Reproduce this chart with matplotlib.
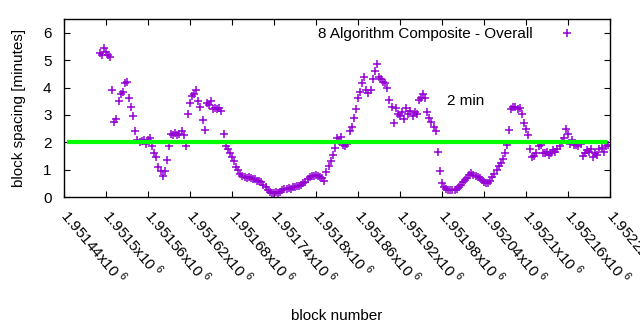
import numpy as np
import matplotlib
matplotlib.use("Agg")
import matplotlib.pyplot as plt

plt.rcParams['font.family'] = ['Liberation Sans', 'DejaVu Sans']
plt.rcParams['mathtext.fontset'] = 'custom'
plt.rcParams['mathtext.rm'] = 'Liberation Sans'

# block numbers (every 3rd block) and spacing in minutes
blocks = np.arange(1951491, 1952218, 3)
spacing = [
    5.25, 5.2, 5.45, 5.3, 5.2, 5.1, 3.9, 2.75, 2.85, 3.5,
    3.75, 3.85, 4.15, 4.2, 3.6, 3.3, 2.95, 2.4, 2.1, 2.0,
    2.05, 2.1, 1.95, 2.1, 2.15, 1.85, 1.6, 1.45, 1.1, 0.95,
    0.75, 0.95, 1.35, 1.85, 2.3, 2.25, 2.35, 2.25, 2.3, 2.4,
    2.25, 1.85, 3.05, 3.45, 3.7, 3.75, 3.9, 3.5, 3.3, 2.8,
    2.45, 3.45, 3.35, 3.5, 3.2, 3.25, 3.2, 3.25, 3.15, 2.3,
    1.85, 1.75, 1.6, 1.45, 1.3, 1.1, 1.0, 0.85, 0.75, 0.72,
    0.7, 0.72, 0.68, 0.65, 0.65, 0.6, 0.6, 0.55, 0.45, 0.35,
    0.25, 0.2, 0.15, 0.15, 0.17, 0.15, 0.2, 0.25, 0.3, 0.3,
    0.32, 0.3, 0.35, 0.37, 0.4, 0.42, 0.45, 0.5, 0.55, 0.65,
    0.72, 0.78, 0.75, 0.8, 0.78, 0.72, 0.68, 0.6, 0.9, 1.15,
    1.3, 1.55, 1.8, 2.15, 2.05, 2.2, 1.9, 1.85, 1.95, 2.4,
    2.55, 2.9, 3.2, 3.6, 3.85, 4.15, 4.4, 3.9, 3.8, 3.9,
    4.3, 4.6, 4.85, 4.4, 4.3, 4.2, 4.15, 4.0, 3.55, 3.3,
    2.7, 3.25, 3.05, 2.95, 3.1, 2.85, 3.25, 3.05, 3.15, 2.95,
    3.1, 3.05, 3.55, 3.6, 3.75, 3.6, 3.1, 2.9, 2.75, 2.55,
    2.4, 1.65, 0.95, 0.5, 0.35, 0.3, 0.27, 0.25, 0.25, 0.25,
    0.3, 0.35, 0.45, 0.55, 0.62, 0.7, 0.8, 0.88, 0.82, 0.78,
    0.72, 0.7, 0.62, 0.55, 0.5, 0.5, 0.6, 0.72, 0.85, 1.0,
    1.15, 1.25, 1.4, 1.6, 1.9, 2.45, 3.2, 3.3, 3.3, 3.2,
    3.25, 3.05, 2.7, 2.5, 2.25, 1.75, 1.45, 1.5, 1.6, 1.85,
    1.9, 1.6, 1.6, 1.65, 1.55, 1.6, 1.7, 1.65, 1.75, 1.85,
    2.05, 2.15, 2.5, 2.3, 1.95, 2.1, 1.9, 1.9, 1.85, 1.95,
    1.5, 1.6, 1.7, 1.65, 1.75, 1.45, 1.6, 1.55, 1.75, 1.8,
    1.65, 1.85, 1.9,
]
target = 2.0
target_from, target_to = 1951444, 1952216
xticks = np.arange(1951440, 1952221, 60)
xticklabels = [r"%gx10$^{\ 6}$" % (t / 1e6) for t in xticks]

fs = 11
fig = plt.figure(figsize=(6.4, 3.3), dpi=100)
ax = fig.add_axes([0.1, 0.403, 0.853, 0.539])

ax.plot(blocks, spacing, linestyle='none', marker='+', markersize=5.2,
        markeredgewidth=1.1, color='#9400d3', label='8 Algorithm Composite - Overall')
ax.hlines(target, target_from, target_to, color='#00ff00', linewidth=3)
ax.text(1951987, 3.5, '2 min', ha='left', va='center', fontsize=fs)

ax.set_xlim(1951440, 1952220)
ax.set_ylim(0, 6.5)
ax.set_yticks(range(0, 7))
ax.set_xticks(xticks)
ax.set_xticklabels(xticklabels, rotation=-50, ha='left', va='center',
                   rotation_mode='anchor')
ax.tick_params(direction='in', length=4, top=True, right=True, labelsize=fs)
ax.tick_params(axis='x', pad=11)
ax.tick_params(axis='y', pad=9)
for s in ax.spines.values():
    s.set_linewidth(1)

ax.set_xlabel('block number', fontsize=fs)
ax.xaxis.set_label_coords(0.5, -0.63)
ax.set_ylabel('block spacing [minutes]', fontsize=fs)
ax.yaxis.set_label_coords(-0.07, 0.5)

ax.legend(loc='upper right', markerfirst=False, frameon=False, fontsize=fs,
          bbox_to_anchor=(0.96, 0.991), borderaxespad=0,
          handlelength=2, handletextpad=1.2)

fig.savefig('out.png', dpi=100)
